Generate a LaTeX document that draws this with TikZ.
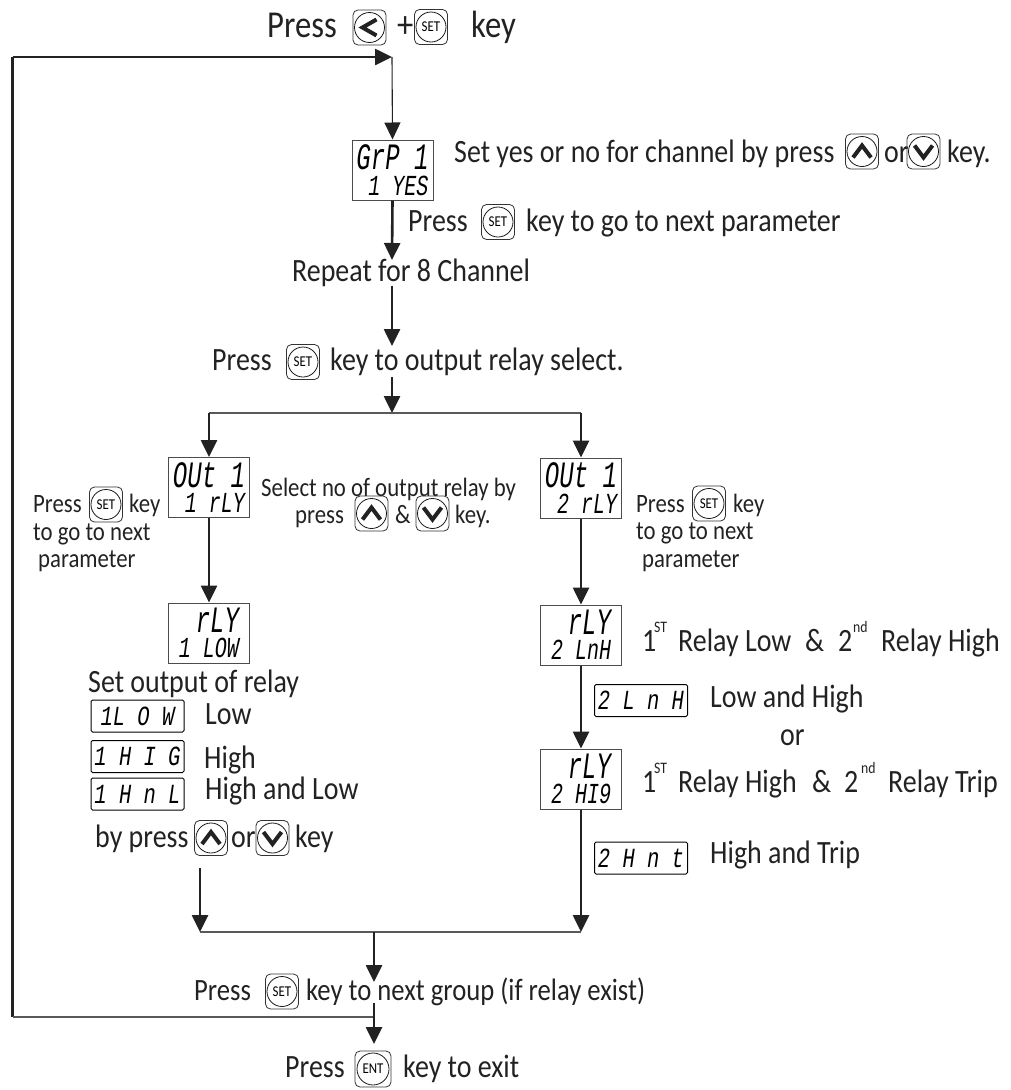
\documentclass[tikz,border=0pt]{standalone}
\usepackage{fontspec}
\setmainfont[FakeStretch=0.86]{Carlito}
\newfontfamily\lcdfont{Liberation Mono}
\usepackage{tikz}
\usetikzlibrary{arrows.meta}

\definecolor{inkgray}{HTML}{222222}
\newcommand{\lcdbig}[1]{\scalebox{1}[1.55]{\fontsize{24}{24}\lcdfont\itshape #1}}
\newcommand{\lcdmid}[1]{\scalebox{1}[1.45]{\fontsize{20}{20}\lcdfont\itshape #1}}
\newcommand{\lcdrow}[1]{\scalebox{1}[1.35]{\fontsize{20.5}{20.5}\lcdfont\itshape #1}}

\tikzset{
  txt/.style={anchor=base west,inner sep=0,text=inkgray,font=\fontsize{32.5}{32.5}\selectfont},
  txthead/.style={txt,font=\fontsize{38}{38}\selectfont},
  txtgroup/.style={txt,font=\fontsize{31}{31}\selectfont},
  txtsmall/.style={txt,font=\fontsize{26.5}{26.5}\selectfont},
  txtsup/.style={txt,font=\fontsize{16}{16}\selectfont},
  flow/.style={line width=2.6,draw=inkgray,-{Triangle[length=17pt,width=16pt]}},
  thinflow/.style={line width=1.1,draw=inkgray,-{Triangle[length=17pt,width=16pt]}},
  rail/.style={line width=1.4,draw=inkgray!75},
  lcdbox/.style={draw=black!70,line width=1,minimum width=81,minimum height=60,inner sep=2,align=right},
  rowbox/.style={draw=black,line width=1,rounded corners=1.5,minimum width=93,minimum height=32,inner sep=0},
  keybox/.style={draw=black!80,line width=.8,rounded corners=5,minimum width=33,minimum height=35,inner sep=0},
  keydial/.style={draw=black!90,line width=.8,circle,minimum size=30,inner sep=0,font=\fontsize{15}{15}\selectfont},
  chev/.style={line width=4,draw=inkgray,line join=miter}
}

\newcommand{\setkey}[2]{\node[keybox] (#1) at (#2) {}; \node[keydial] (#1dial) at (#1) {SET};}
\newcommand{\entkey}[2]{\node[keybox,minimum width=36,minimum height=36] (#1) at (#2) {}; \node[keydial,minimum size=32] (#1dial) at (#1) {ENT};}
\newcommand{\upkey}[2]{\node[keybox] (#1) at (#2) {}; \node[keydial] (#1dial) at (#1) {};
  \draw[chev,shift={(#1)}] (-9,6)--(0,-6)--(9,6);}
\newcommand{\downkey}[2]{\node[keybox] (#1) at (#2) {}; \node[keydial] (#1dial) at (#1) {};
  \draw[chev,shift={(#1)}] (-9,-6)--(0,6)--(9,-6);}

\begin{document}
\begin{tikzpicture}[x=1pt,y=-1pt]
\useasboundingbox (0,0) rectangle (1011,1090);

\node[txthead] (pressA) at (267,37) {Press};
\node[keybox] (leftkey) at (369.5,27.5) {};
\node[keydial] (leftdial) at (leftkey) {};
\draw[chev,shift={(leftkey)}] (7,-8)--(-7,0)--(7,8);
\node[txthead] (plus) at (397,37) {+};
\setkey{setA}{431,27}
\node[txthead] (keyA) at (471,37) {key};

\node[lcdbox] (grp) at (392.5,170) {\lcdbig{GrP 1}\\[5pt]\lcdmid{1 YES}};
\node[txt] (yesno) at (454,162) {Set yes or no for channel by press};
\upkey{upA}{862,151.5}
\node[txt] (orA) at (884,162) {or};
\downkey{downA}{923.5,151.5}
\node[txt] (keyB) at (947,162) {key.};

\node[txt] (pressB) at (408,231) {Press};
\setkey{setB}{498,222}
\node[txt] (nextB) at (526,231) {key to go to next parameter};

\node[txt] (repeat) at (292,281) {Repeat for 8 Channel};

\node[txt] (pressC) at (212,370) {Press};
\setkey{setC}{303,362}
\node[txt] (relaysel) at (330,370) {key to output relay select.};

\node[lcdbox] (outL) at (209,487.5) {\lcdbig{OUt 1}\\[5pt]\lcdmid{1 rLY}};
\node[lcdbox] (outR) at (581,488) {\lcdbig{OUt 1}\\[5pt]\lcdmid{2 rLY}};
\node[lcdbox] (rlyL) at (209,633) {\lcdbig{rLY}\\[5pt]\lcdmid{1 LOW}};
\node[lcdbox] (rlyA) at (581,635) {\lcdbig{rLY}\\[5pt]\lcdmid{2 LnH}};
\node[lcdbox] (rlyB) at (581,779) {\lcdbig{rLY}\\[5pt]\lcdmid{2 HI9}};

\node[txtsmall] (pressD) at (33,512) {Press};
\setkey{setD}{106,504.5}
\node[txtsmall] (keyD) at (129,512) {key};
\node[txtsmall] (nextD) at (33,540) {to go to next};
\node[txtsmall] (paramD) at (38,567) {parameter};

\node[txtsmall] (selno) at (261,496) {Select no of output relay by};
\node[txtsmall] (pressE) at (295,523) {press};
\upkey{upE}{371.5,513.5}
\node[txtsmall] (ampE) at (395,523) {\&};
\downkey{downE}{432.5,513.5}
\node[txtsmall] (keyE) at (455,523) {key.};

\node[txtsmall] (pressF) at (636,512) {Press};
\setkey{setF}{709,503.5}
\node[txtsmall] (keyF) at (733,512) {key};
\node[txtsmall] (nextF) at (636,539) {to go to next};
\node[txtsmall] (paramF) at (642,567) {parameter};

\node[txt] (setout) at (88,692) {Set output of relay};
\node[rowbox] (rowlow) at (137.5,716) {\lcdrow{1L\ O\ W}};
\node[txt] (lowtxt) at (205,724) {Low};
\node[rowbox] (rowhigh) at (137.5,756.5) {\lcdrow{1 H I G}};
\node[txt] (hightxt) at (204,768) {High};
\node[rowbox] (rowboth) at (137.5,794) {\lcdrow{1 H n L}};
\node[txt] (bothtxt) at (205,799) {High and Low};
\node[txt] (bypress) at (95,847) {by press};
\upkey{upG}{211,838}
\node[txt] (orG) at (231,847) {or};
\downkey{downG}{272.5,838}
\node[txt] (keyG) at (295,847) {key};

\node[txt] (oneA) at (642,651) {1};
\node[txtsup] (stA) at (654,632) {ST};
\node[txt] (rlow) at (678,651) {Relay Low};
\node[txt] (ampA) at (805,651) {\&};
\node[txt] (twoA) at (838,651) {2};
\node[txtsup] (ndA) at (853,632) {nd};
\node[txt] (rhigh) at (881,651) {Relay High};
\node[rowbox] (rowlnh) at (641,700.5) {\lcdrow{2 L n H}};
\node[txt] (lowhigh) at (710,707) {Low and High};
\node[txt] (ortxt) at (780,745) {or};
\node[txt] (oneB) at (642,792) {1};
\node[txtsup] (stB) at (654,773) {ST};
\node[txt] (rhighB) at (678,792) {Relay High};
\node[txt] (ampB) at (812,792) {\&};
\node[txt] (twoB) at (844,792) {2};
\node[txtsup] (ndB) at (861,773) {nd};
\node[txt] (rtrip) at (888,792) {Relay Trip};
\node[rowbox] (rowhnt) at (641,858) {\lcdrow{2 H n t}};
\node[txt] (hightrip) at (710,863) {High and Trip};

\node[txtgroup] (pressH) at (194,1000) {Press};
\setkey{setH}{282,991.5}
\node[txtgroup] (group) at (306,1000) {key to next group (if relay exist)};
\node[txt] (pressI) at (285,1077) {Press};
\entkey{entI}{373,1069}
\node[txt] (exit) at (403,1077) {key to exit};

\coordinate (top) at (392,57);
\coordinate (loopL) at (12.5,57);
\coordinate (loopB) at (12.5,1017);
\coordinate (tipA) at (392,260);
\coordinate (startB) at (392,286);
\coordinate (tipB) at (392,346);
\coordinate (startC) at (392,377);
\coordinate (split) at (392,413);
\coordinate (splitL) at (209,413);
\coordinate (splitR) at (581,413);
\coordinate (startD) at (200,868);
\coordinate (joinL) at (200,932);
\coordinate (joinR) at (581,932);
\coordinate (join) at (374,932);
\coordinate (tipE) at (374,982);
\coordinate (startF) at (374,1003);
\coordinate (back) at (374,1017);
\coordinate (tipF) at (374,1044);

\draw[line width=2.6,draw=inkgray] (loopB)--(loopL);
\draw[flow] (loopL)--(top);
\draw[rail] (back)--(loopB);
\draw[thinflow] (top)--(grp.north);
\draw[flow] (grp.south)--(tipA);
\draw[flow] (startB)--(tipB);
\draw[flow] (startC)--(split);
\draw[rail] (splitL)--(splitR);
\draw[flow] (splitL)--(outL.north);
\draw[flow] (splitR)--(outR.north);
\draw[flow] (outL.south)--(rlyL.north);
\draw[flow] (outR.south)--(rlyA.north);
\draw[flow] (rlyA.south)--(rlyB.north);
\draw[flow] (rlyB.south)--(joinR);
\draw[flow] (startD)--(joinL);
\draw[rail] (joinL)--(joinR);
\draw[flow] (join)--(tipE);
\draw[flow] (startF)--(tipF);

\end{tikzpicture}
\end{document}
